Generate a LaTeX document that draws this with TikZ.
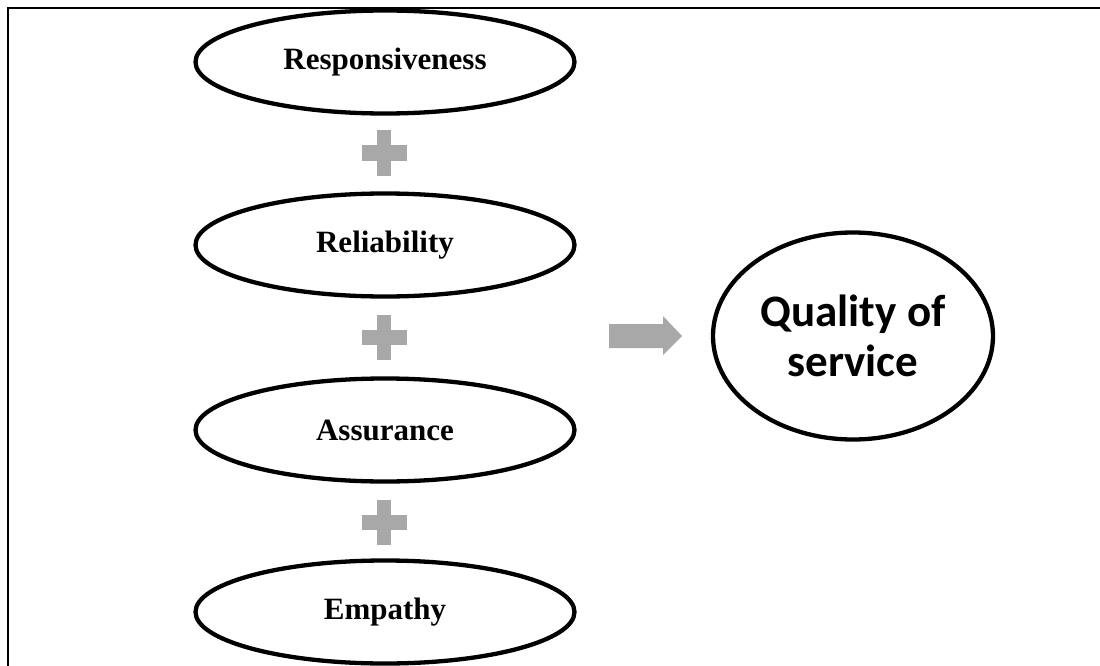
\documentclass[tikz,border=0pt]{standalone}
\usepackage{fontspec}
\setmainfont{Liberation Serif}
\newfontfamily\qualityfont{Carlito}
\usetikzlibrary{shapes.geometric}
\definecolor{signgray}{RGB}{168,168,168}
\tikzset{
  factor/.style={ellipse, draw=black, line width=4.3pt, inner sep=0pt,
    minimum width=379pt, minimum height=103pt,
    font=\fontsize{31}{36}\selectfont\bfseries},
  outcome/.style={ellipse, draw=black, line width=4.3pt, inner sep=0pt,
    minimum width=280pt, minimum height=207pt, align=center,
    font=\qualityfont\fontsize{45}{50}\selectfont\bfseries},
  sign/.style={fill=signgray}
}
\begin{document}
\begin{tikzpicture}[x=1pt,y=-1pt]
  \useasboundingbox (0,0) rectangle (1100,666);
  % frame (top and left edges)
  \draw[line width=1.3pt] (1100,8) -- (8,8) -- (8,670);

  % the four service dimensions
  \node[factor] (resp)  at (385,62)  {Responsiveness};
  \node[factor] (relia) at (385,245) {Reliability};
  \node[factor] (assur) at (385,430) {Assurance};
  \node[factor] (empa)  at (385,612) {Empathy};

  % plus signs between the dimensions
  \coordinate (p1) at (384,153);
  \coordinate (p2) at (384,337);
  \coordinate (p3) at (384,522);
  \foreach \p in {p1,p2,p3}{
    \fill[sign] (\p) ++(-22.5,-7.5) rectangle ++(45,15);
    \fill[sign] (\p) ++(-7,-22.5) rectangle ++(14,45);
  }

  % result
  \node[outcome] (qual) at (853,336) {Quality of\\service};

  % block arrow towards the result
  \coordinate (arr) at (609,336);
  \fill[sign] (arr) ++(0,-12) -- ++(54,0) -- ++(0,-8) -- ++(19,20)
    -- ++(-19,19) -- ++(0,-7) -- ++(-54,0) -- cycle;
\end{tikzpicture}
\end{document}
